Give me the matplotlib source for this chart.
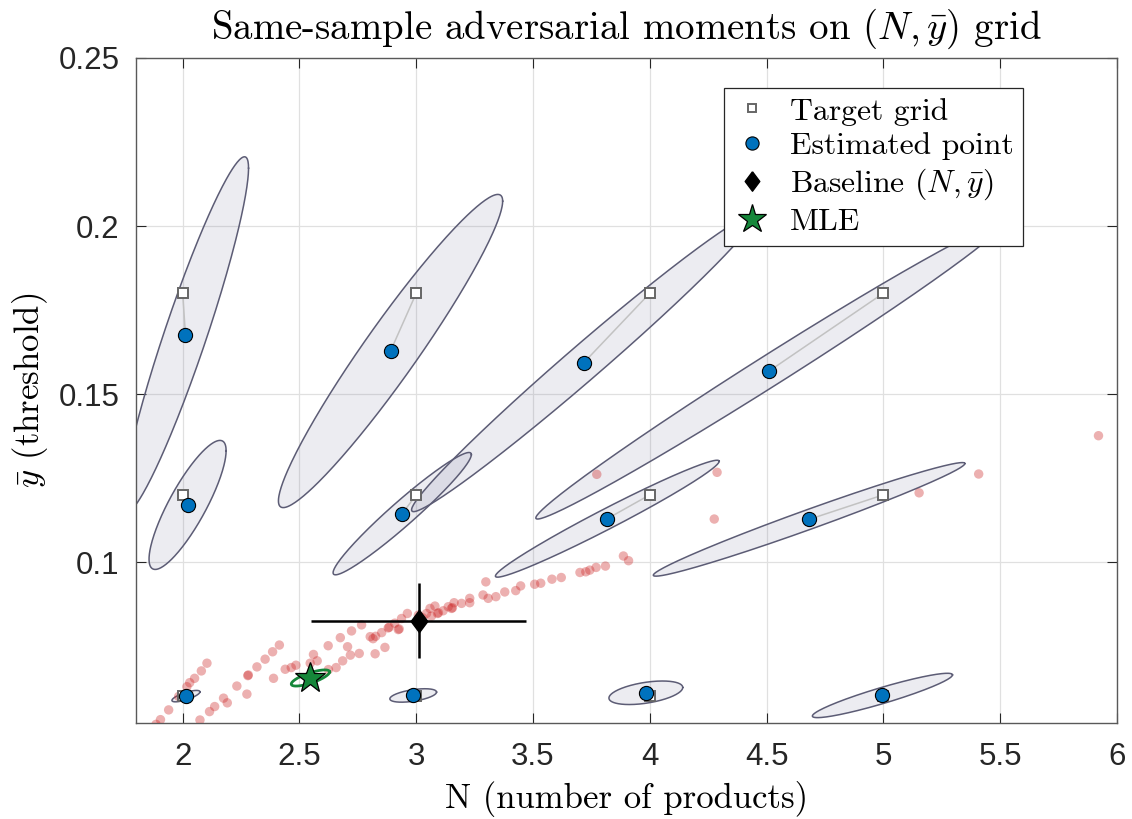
import numpy as np
import matplotlib
matplotlib.use("Agg")
import matplotlib.pyplot as plt
from matplotlib.ticker import FuncFormatter, MultipleLocator
from matplotlib.lines import Line2D

plt.rcParams['mathtext.fontset'] = 'cm'
plt.rcParams['axes.unicode_minus'] = False

# target grid points (N, ybar)
target_N = [2, 2, 2, 3, 3, 3, 4, 4, 4, 5, 5, 5]
target_y = [0.18, 0.12, 0.06, 0.18, 0.12, 0.06, 0.18, 0.12, 0.06, 0.18, 0.12, 0.06]

# estimated points, same order as the targets
est_N = [2.012, 2.021, 2.014, 2.890, 2.940, 2.987, 3.717, 3.818, 3.983, 4.512, 4.682, 4.996]
est_y = [0.1676, 0.1170, 0.0601, 0.1628, 0.1144, 0.0603, 0.1593, 0.1129, 0.0611, 0.1569, 0.1127, 0.0603]

# confidence ellipses: half range in N, half range in ybar, correlation
ell_hN = [0.27, 0.165, 0.06, 0.48, 0.296, 0.10, 0.737, 0.479, 0.158, 1.00, 0.667, 0.30]
ell_hy = [0.053, 0.0192, 0.0017, 0.0466, 0.0182, 0.0020, 0.0443, 0.0174, 0.0035, 0.0441, 0.0169, 0.0066]
ell_rho = [0.936, 0.84, 0.75, 0.957, 0.965, 0.5, 0.988, 0.981, 0.45, 0.9925, 0.983, 0.927]

# MLE and its ellipse
mle_N, mle_y = 2.547, 0.0655
mle_hN, mle_hy, mle_rho = 0.082, 0.0024, 0.75

# baseline with error bars
base_N, base_y = 3.011, 0.0825
base_errN, base_erry = 0.46, 0.0112

# bootstrap cloud
cloud_N = [1.886, 1.905, 1.940, 1.983, 2.018, 2.030, 2.051, 2.080, 2.104,
           2.074, 2.115, 2.137, 2.175, 2.191, 2.232, 2.275, 2.279, 2.281, 2.318, 2.353, 2.385, 2.414,
           2.389, 2.439, 2.465, 2.485, 2.546, 2.560, 2.576, 2.624, 2.657, 2.685, 2.718, 2.756, 2.824, 2.866,
           2.706, 2.623, 2.675, 2.723, 2.766, 2.803, 2.815, 2.826, 2.852, 2.880, 2.884, 2.923, 2.927, 2.908, 2.937, 2.962,
           3.009, 3.028, 3.044, 3.059, 3.080, 3.091, 3.095, 3.065, 3.115, 3.137, 3.151, 3.155, 3.162, 3.194, 3.229, 3.229,
           3.286, 3.308, 3.341, 3.298, 3.379, 3.426, 3.447, 3.507, 3.533,
           3.581, 3.621, 3.701, 3.726, 3.743, 3.770, 3.810, 3.887, 3.909,
           3.773, 4.288, 4.276, 5.153, 5.408, 5.921]
cloud_y = [0.0517, 0.0531, 0.0560, 0.0600, 0.0629, 0.0641, 0.0654, 0.0676, 0.0699,
           0.0530, 0.0555, 0.0570, 0.0595, 0.0581, 0.0631, 0.0607, 0.0662, 0.0664, 0.0688, 0.0711, 0.0733, 0.0753,
           0.0654, 0.0681, 0.0686, 0.0693, 0.0699, 0.0725, 0.0706, 0.0680, 0.0686, 0.0706, 0.0723, 0.0728, 0.0727, 0.0746,
           0.0748, 0.0751, 0.0775, 0.0795, 0.0813, 0.0778, 0.0772, 0.0779, 0.0790, 0.0804, 0.0806, 0.0799, 0.0801, 0.0818, 0.0832, 0.0847,
           0.0842, 0.0834, 0.0847, 0.0862, 0.0869, 0.0847, 0.0849, 0.0839, 0.0855, 0.0867, 0.0862, 0.0864, 0.0879, 0.0877, 0.0892, 0.0879,
           0.0902, 0.0892, 0.0897, 0.0941, 0.0911, 0.0915, 0.0929, 0.0934, 0.0937,
           0.0949, 0.0954, 0.0969, 0.0971, 0.0976, 0.0984, 0.0988, 0.1018, 0.1004,
           0.1261, 0.1267, 0.1128, 0.1206, 0.1262, 0.1376]


def ellipse_xy(cx, cy, hx, hy, rho, n=300):
    t = np.linspace(0, 2 * np.pi, n)
    x = cx + hx * np.cos(t)
    y = cy + hy * (rho * np.cos(t) + np.sqrt(1 - rho ** 2) * np.sin(t))
    return x, y


blue = '#0072BD'
green = '#15873A'
cm_font = 'cmr10'

fig = plt.figure(figsize=(11.32, 8.19), dpi=100)
ax = fig.add_axes([0.1201, 0.1172, 0.8666, 0.8120])

for i in range(len(est_N)):
    ex, ey = ellipse_xy(est_N[i], est_y[i], ell_hN[i], ell_hy[i], ell_rho[i])
    ax.fill(ex, ey, facecolor=(0.50, 0.50, 0.64), alpha=0.15, edgecolor='none', zorder=2)
    ax.plot(ex, ey, color=(0.36, 0.36, 0.46), lw=1.1, zorder=2.1)

for i in range(len(est_N)):
    ax.plot([target_N[i], est_N[i]], [target_y[i], est_y[i]], color=(0.76, 0.76, 0.76), lw=1.1, zorder=3)

ax.scatter(cloud_N, cloud_y, s=46, color=(0.8, 0.15, 0.15), alpha=0.36, edgecolors='none', zorder=3.5)

ax.plot(target_N, target_y, 's', ms=6.5, mfc='white', mec=(0.4, 0.4, 0.4), mew=1.4, ls='none', zorder=4)
ax.plot(est_N, est_y, 'o', ms=10.2, mfc=blue, mec='black', mew=0.8, ls='none', zorder=5)

diamond = [(0, 1), (0.75, 0), (0, -1), (-0.75, 0), (0, 1)]
ax.errorbar(base_N, base_y, xerr=base_errN, yerr=base_erry, fmt='none', ecolor='black', elinewidth=1.8, capsize=0, zorder=6)
ax.plot(base_N, base_y, marker=diamond, ms=16, color='black', ls='none', zorder=7)

mx, my = ellipse_xy(mle_N, mle_y, mle_hN, mle_hy, mle_rho)
ax.plot(mx, my, color=green, lw=2.0, zorder=6)
ax.plot(mle_N, mle_y, '*', ms=23, mfc=green, mec='black', mew=0.9, ls='none', zorder=8)

ax.set_xlim(1.8, 6)
ax.set_ylim(0.0521, 0.25)
ax.xaxis.set_major_locator(MultipleLocator(0.5))
ax.yaxis.set_major_locator(MultipleLocator(0.05))
ax.xaxis.set_major_formatter(FuncFormatter(lambda v, p: '%g' % v))
ax.yaxis.set_major_formatter(FuncFormatter(lambda v, p: '%g' % round(v, 3)))

ax.grid(True, color=(0.88, 0.88, 0.88), lw=0.9)
ax.set_axisbelow(True)
ax.tick_params(direction='in', length=7, width=0.8, top=True, right=True, colors=(0.15, 0.15, 0.15),
               labelsize=22.5, pad=14)
ax.tick_params(axis='y', pad=12)
for lab in ax.get_xticklabels() + ax.get_yticklabels():
    lab.set_fontfamily('Liberation Sans')
for sp in ax.spines.values():
    sp.set_color((0.35, 0.35, 0.35))
    sp.set_linewidth(1.0)

ax.set_title(r'Same-sample adversarial moments on $(N,\bar{y})$ grid', fontfamily=cm_font, fontsize=28, pad=14)
ax.set_xlabel('N (number of products)', fontfamily=cm_font, fontsize=25, labelpad=6)
ax.set_ylabel(r'$\bar{y}$ (threshold)', fontfamily=cm_font, fontsize=25, labelpad=6)

handles = [
    Line2D([], [], marker='s', ms=6, mfc='white', mec=(0.4, 0.4, 0.4), mew=1.4, ls='none'),
    Line2D([], [], marker='o', ms=9.5, mfc=blue, mec='black', mew=0.8, ls='none'),
    Line2D([], [], marker=diamond, ms=14, color='black', ls='none'),
    Line2D([], [], marker='*', ms=21, mfc=green, mec='black', mew=0.9, ls='none'),
]
labels = ['Target grid', 'Estimated point', r'Baseline $(N,\bar{y})$', 'MLE']
leg = ax.legend(handles, labels, loc='upper left', bbox_to_anchor=(0.599, 0.955),
                prop={'family': cm_font, 'size': 22.8}, fancybox=False, framealpha=1,
                edgecolor=(0.15, 0.15, 0.15), borderpad=0.3, labelspacing=0.2,
                handlelength=1.2, handletextpad=0.6, borderaxespad=0)
leg.get_frame().set_linewidth(0.9)
leg.set_zorder(10)

fig.savefig('out.png', dpi=100)
